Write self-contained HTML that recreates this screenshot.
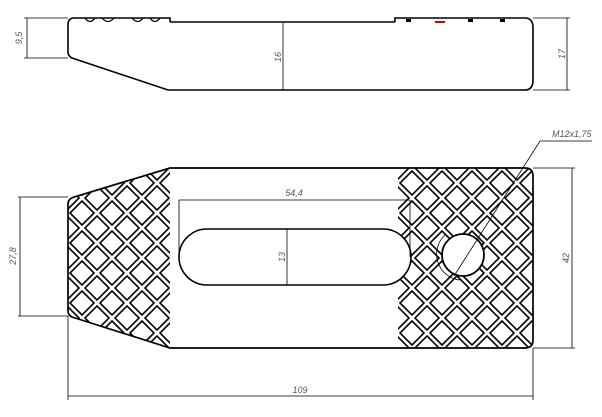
<!DOCTYPE html>
<html><head><style>html,body{margin:0;padding:0;background:#fff}svg{display:block}</style></head>
<body>
<svg width="602" height="417" viewBox="0 0 602 417" xmlns="http://www.w3.org/2000/svg" font-family="Liberation Sans, sans-serif">
<defs>
<pattern id="dia" patternUnits="userSpaceOnUse" x="67" y="198" width="30" height="30">
 <g fill="none" stroke="#000" stroke-width="1.6">
  <path d="M15 3 L27 15 L15 27 L3 15 Z"/>
  <path d="M0 -12 L12 0 L0 12 L-12 0 Z"/>
  <path d="M30 -12 L42 0 L30 12 L18 0 Z"/>
  <path d="M0 18 L12 30 L0 42 L-12 30 Z"/>
  <path d="M30 18 L42 30 L30 42 L18 30 Z"/>
 </g>
</pattern>
<clipPath id="cl"><path d="M68 200 L75 197 L170 168 L170 348 L70 316 L68 312 Z"/></clipPath>
<clipPath id="cr"><path d="M398 168 L525 168 Q533 168 533 176 L533 340 Q533 348 525 348 L398 348 Z"/></clipPath>
</defs>

<!-- TOP VIEW -->
<g fill="none" stroke="#000" stroke-width="1.6">
 <path d="M170 22 L395 22"/>
 <path d="M74 18 L170 18 L170 22"/>
 <path d="M74 18 Q68 18 68 25 L68 52 Q68 56 72 58 L168 90 L525 90 Q532 90 533 82 L533 26 Q532 18 525 18 L395 18 L395 22"/>
 <path d="M85 18 Q90 25 95 18 M102 18 Q108 25 114 18 M132 18 Q138 25 143 18 M150 18 Q155 25 160 18" stroke-width="1.3"/>
</g>
<g fill="#000"><rect x="406" y="19" width="5" height="3"/><rect x="468" y="19" width="5" height="3"/><rect x="500" y="19" width="5" height="3"/></g>
<g fill="none" stroke="#000" stroke-width="0.8">
 <path d="M24 18 L68 18 M24 58 L68 58 M27 18 L27 58"/>
 <path d="M283 23 L283 90"/>
 <path d="M533 18 L570 18 M533 90 L570 90 M567 18 L567 90"/>
</g>
<g fill="#c00"><rect x="435" y="21" width="10" height="2"/></g>
<g font-size="9" fill="#555" font-style="italic">
 <text transform="translate(22,38) rotate(-90)" text-anchor="middle">9,5</text>
 <text transform="translate(281,57) rotate(-90)" text-anchor="middle">16</text>
 <text transform="translate(565,54) rotate(-90)" text-anchor="middle">17</text>
</g>

<!-- PLAN VIEW hatching -->
<rect x="60" y="160" width="115" height="195" fill="url(#dia)" clip-path="url(#cl)"/>
<rect x="395" y="160" width="145" height="195" fill="url(#dia)" clip-path="url(#cr)"/>

<!-- slot and hole -->
<rect x="179" y="229" width="232" height="56" rx="28" fill="#fff" stroke="#000" stroke-width="1.6"/>
<circle cx="463" cy="255" r="21" fill="#fff" stroke="#000" stroke-width="1.8"/>
<path d="M445 235 A26 26 0 0 0 460 280" fill="none" stroke="#000" stroke-width="0.8"/>

<!-- outline -->
<path d="M170 168 L525 168 Q533 168 533 176 L533 340 Q533 348 525 348 L170 348 L72 317 Q68 315 68 311 L68 204 Q68 199 74 197 Z" fill="none" stroke="#000" stroke-width="1.7"/>

<!-- dims -->
<g fill="none" stroke="#000" stroke-width="0.8">
 <path d="M18 197 L68 197 M18 316 L68 316 M20 197 L20 316"/>
 <path d="M179 200 L410 200 M179 200 L179 257 M410 200 L410 257"/>
 <path d="M287 229 L287 285"/>
 <path d="M533 168 L575 168 M533 348 L575 348 M572 168 L572 348"/>
 <path d="M68 316 L68 400 M533 348 L533 400 M68 396 L533 396"/>
 <path d="M454 276 L540 141 L592 141"/>
</g>
<g font-size="9" fill="#555" font-style="italic">
 <text transform="translate(16,256) rotate(-90)" text-anchor="middle">27,8</text>
 <text x="294" y="196" text-anchor="middle">54,4</text>
 <text transform="translate(285,257) rotate(-90)" text-anchor="middle">13</text>
 <text transform="translate(569,258) rotate(-90)" text-anchor="middle">42</text>
 <text x="300" y="393" text-anchor="middle">109</text>
 <text x="552" y="137">M12x1,75</text>
</g>
</svg>
</body></html>
